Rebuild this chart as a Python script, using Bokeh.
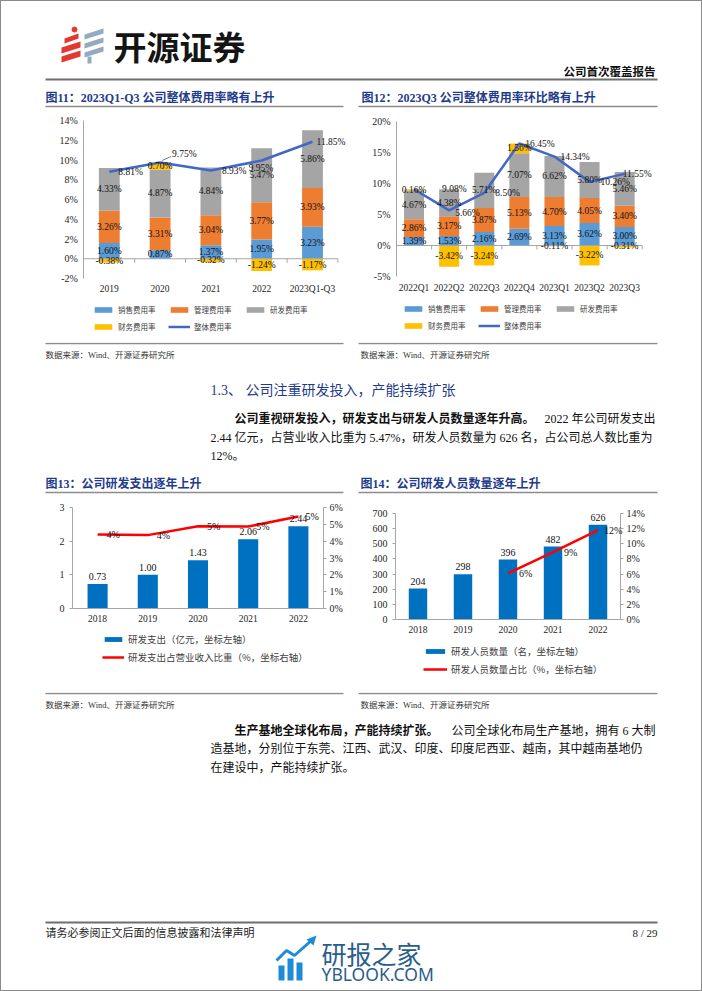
from bokeh.plotting import figure
from bokeh.layouts import column, row
from bokeh.models import (Range1d, LinearAxis, Legend, LegendItem,
                          LabelSet, ColumnDataSource, Label, FixedTicker,
                          PrintfTickFormatter, CustomJSTickFormatter)
from bokeh.core.properties import value
from bokeh.embed import file_html
from bokeh.resources import INLINE

# ---------------- data ----------------
years11 = ["2019", "2020", "2021", "2022", "2023Q1-Q3"]
sales11 = [1.60, 0.87, 1.37, 1.95, 3.23]
admin11 = [3.26, 3.31, 3.04, 3.77, 3.93]
rd11 = [4.33, 4.87, 4.84, 5.47, 5.86]
fin11 = [-0.38, 0.70, -0.32, -1.24, -1.17]
total11 = [8.81, 9.75, 8.93, 9.95, 11.85]

quarters12 = ["2022Q1", "2022Q2", "2022Q3", "2022Q4", "2023Q1", "2023Q2", "2023Q3"]
sales12 = [1.39, 1.53, 2.16, 2.69, 3.13, 3.62, 3.00]
admin12 = [2.86, 3.17, 3.87, 5.13, 4.70, 4.05, 3.40]
rd12 = [4.67, 4.38, 5.71, 7.07, 6.62, 5.80, 5.46]
fin12 = [0.16, -3.42, -3.24, 1.56, -0.11, -3.22, -0.31]
total12 = [9.08, 5.66, 8.50, 16.45, 14.34, 10.26, 11.55]

years13 = ["2018", "2019", "2020", "2021", "2022"]
rd_spend = [0.73, 1.00, 1.43, 2.06, 2.44]
rd_spend_ratio = [4.40, 4.36, 4.89, 4.87, 5.47]

years14 = ["2018", "2019", "2020", "2021", "2022"]
rd_staff = [204, 298, 396, 482, 626]
rd_staff_ratio = [None, None, 6.1, 8.9, 11.8]

expense_names = ["销售费用率", "管理费用率", "研发费用率", "财务费用率", "整体费用率"]
names13 = ["研发支出（亿元，坐标左轴）", "研发支出占营业收入比重（%，坐标右轴）"]
names14 = ["研发人员数量（名，坐标左轴）", "研发人员数量占比（%，坐标右轴）"]

# ---------------- style ----------------
SERIF = "Liberation Serif"
CJK = "Noto Sans CJK SC"
MIX = "'Liberation Serif', 'Noto Sans CJK SC'"
EXP_COLORS = ["#5B9BD5", "#ED7D31", "#A5A5A5", "#FFC000", "#4268C6"]
NAVY = "#1F3C8C"
RULE = "#8C8C8C"
AXIS = "#A6A6A6"

# label offsets (screen px) for the line labels; lead = draw a leader line
dx11 = [9, 12, 11, -13, 4]
dy11 = [0, 8, 0, -8, 0]
lead11 = [False, True, False, False, False]
dx12 = [28, 6, 11, 6, 6, 11, -2]
dy12 = [0, -3, 0, 0, 0, 0, 0]
lead12 = [False] * 7
dx13 = [9, 9, 9, 8, 7]
dx14 = [11, 11, 11, 11, 6]


def style_axis(ax, size="10px", line=AXIS, tick_out=0, standoff=6, font=SERIF):
    ax.axis_line_color = line
    ax.major_tick_line_color = line if tick_out else None
    ax.major_tick_out = tick_out
    ax.major_tick_in = 0
    ax.minor_tick_line_color = None
    ax.minor_tick_out = 0
    ax.minor_tick_in = 0
    ax.major_label_text_font = font
    ax.major_label_text_font_size = size
    ax.major_label_text_color = "#262626"
    ax.major_label_standoff = int(standoff)


def span_range(lo, hi, px_lo, px_hi, total_px):
    """Data range for the full canvas, so that [lo, hi] falls on pixels [px_lo, px_hi]."""
    k = (px_hi - px_lo) / (hi - lo)
    return lo - px_lo / k, lo + (total_px - px_lo) / k


def chart_canvas(W, H, n, box, yr):
    left, right, top, bottom = box
    xs0, xs1 = span_range(0, n, left, right, W)
    ys0, ys1 = span_range(yr[0], yr[1], H - bottom, H - top, H)
    p = figure(width=W, height=H, x_range=Range1d(xs0, xs1), y_range=Range1d(ys0, ys1),
               output_backend="svg", toolbar_location=None, min_border=0,
               x_axis_location=None, y_axis_location=None, outline_line_color=None,
               border_fill_color=None, background_fill_color=None)
    p.grid.visible = False
    return p


def cat_axis(p, cats, y_at, standoff, line):
    n = len(cats)
    xa = LinearAxis(fixed_location=y_at, bounds=(0, n),
                    ticker=FixedTicker(ticks=[i + 0.5 for i in range(n)]),
                    formatter=CustomJSTickFormatter(args=dict(names=cats),
                                                    code="return names[Math.round(tick - 0.5)]"))
    style_axis(xa, size="9.5px", line=line, standoff=standoff)
    p.add_layout(xa, "below")


def expense_chart(cats, sales, admin, rd, fin, total, yr, ystep, box, bar_w,
                  x_standoff, leg_xy, dx, dy, lead):
    H, W = 234, 351
    y0, y1 = yr
    n = len(cats)
    p = chart_canvas(W, H, n, box, yr)
    px_x = (box[1] - box[0]) / n
    px_y = (box[3] - box[2]) / (y1 - y0)
    xs = [i + 0.5 for i in range(n)]
    a_top = [s + a for s, a in zip(sales, admin)]
    r_top = [t + r for t, r in zip(a_top, rd)]
    f_bot = [t if f > 0 else 0 for t, f in zip(r_top, fin)]
    f_top = [t + f if f > 0 else f for t, f in zip(r_top, fin)]
    zero = [0] * n
    stacks = [(zero, sales), (sales, a_top), (a_top, r_top), (f_bot, f_top)]
    rends = []
    lx, ly, lt = [], [], []
    for (b, t), vals, c in zip(stacks, [sales, admin, rd, fin], EXP_COLORS):
        r = p.vbar(x=xs, bottom=b, top=t, width=bar_w, fill_color=c, line_color=None)
        rends.append(r)
        lx += xs
        ly += [(u + v) / 2 for u, v in zip(b, t)]
        lt += [f"{v:.2f}%" for v in vals]
    tick = 4 / px_y
    p.segment(x0=[0], y0=[0], x1=[n], y1=[0], line_color=AXIS, line_width=1)
    bx = list(range(1, n + 1))
    p.segment(x0=bx, y0=[0] * n, x1=bx, y1=[-tick] * n, line_color=AXIS, line_width=1)
    ln = p.line(x=xs, y=total, line_color=EXP_COLORS[4], line_width=2.5)
    rends.append(ln)
    # leader lines for displaced labels
    lead_pts = [(x, v, d, e) for x, v, d, e, L in zip(xs, total, dx, dy, lead) if L]
    if lead_pts:
        p.segment(x0=[x + 2 / px_x for x, _, _, _ in lead_pts],
                  y0=[v + 2 / px_y for _, v, _, _ in lead_pts],
                  x1=[x + (d - 1) / px_x for x, _, d, _ in lead_pts],
                  y1=[v + (e - 2) / px_y for _, v, _, e in lead_pts],
                  line_color="#595959", line_width=0.8)
    p.add_layout(LabelSet(source=ColumnDataSource(dict(x=lx, y=ly, t=lt)), x="x", y="y", text="t",
                          text_align="center", text_baseline="middle", text_font=value(SERIF),
                          text_font_size="9.5px", text_color="#111111"))
    p.add_layout(LabelSet(source=ColumnDataSource(dict(x=xs, y=total, t=[f"{v:.2f}%" for v in total],
                                                       dx=dx, dy=dy)),
                          x="x", y="y", text="t", x_offset="dx", y_offset="dy",
                          text_align="left", text_baseline="middle", text_font=value(SERIF),
                          text_font_size="9.5px", text_color="#111111"))
    ya = LinearAxis(fixed_location=0, bounds=(y0, y1),
                    ticker=FixedTicker(ticks=list(range(y0, y1 + 1, ystep))),
                    formatter=PrintfTickFormatter(format="%d%%"))
    style_axis(ya, size="10px", standoff=6)
    p.add_layout(ya, "left")
    cat_axis(p, cats, y0, x_standoff, None)
    items = [LegendItem(label=nm, renderers=[r]) for nm, r in zip(expense_names, rends)]
    leg = Legend(items=items, location=leg_xy, orientation="horizontal", ncols=3,
                 glyph_width=22, glyph_height=7, label_height=9, label_width=44,
                 label_standoff=4, spacing=6, padding=0, margin=0,
                 border_line_color=None, background_fill_alpha=0,
                 label_text_font=CJK, label_text_font_size="7.5px",
                 label_text_color="#404040", label_text_baseline="middle")
    p.add_layout(leg)
    return p


def bar_line_chart(cats, bars, bar_lbls, ratio, yl, ylstep, yrr, yrstep, box, bar_w,
                   x_standoff, leg_xy, names, glyph_w, dx):
    H, W = 197, 351
    n = len(cats)
    p = chart_canvas(W, H, n, box, yl)
    r0, r1 = span_range(yrr[0], yrr[1], H - box[3], H - box[2], H)
    p.extra_y_ranges = {"r": Range1d(r0, r1)}
    xs = [i + 0.5 for i in range(n)]
    rb = p.vbar(x=xs, top=bars, width=bar_w, fill_color="#0070C0", line_color=None)
    pts = [(x, v, d) for x, v, d in zip(xs, ratio, dx) if v is not None]
    lx = [x for x, _, _ in pts]
    lv = [v for _, v, _ in pts]
    ldx = [d for _, _, d in pts]
    rl = p.line(x=lx, y=lv, y_range_name="r", line_color="#FF0000", line_width=2.5)
    p.add_layout(LabelSet(source=ColumnDataSource(dict(x=xs, y=bars, t=bar_lbls)),
                          x="x", y="y", text="t", text_align="center", text_baseline="bottom",
                          y_offset=4, text_font=value(SERIF), text_font_size="10px",
                          text_color="#111111"))
    p.add_layout(LabelSet(source=ColumnDataSource(dict(x=lx, y=lv, dx=ldx,
                                                       t=[f"{round(v)}%" for v in lv])),
                          x="x", y="y", text="t", y_range_name="r", x_offset="dx",
                          text_align="left", text_baseline="middle", text_font=value(SERIF),
                          text_font_size="10px", text_color="#111111"))
    ya = LinearAxis(fixed_location=0, bounds=yl,
                    ticker=FixedTicker(ticks=list(range(yl[0], yl[1] + 1, ylstep))))
    style_axis(ya, size="10px", tick_out=3, standoff=5)
    p.add_layout(ya, "left")
    ra = LinearAxis(y_range_name="r", fixed_location=n, bounds=yrr,
                    ticker=FixedTicker(ticks=list(range(yrr[0], yrr[1] + 1, yrstep))),
                    formatter=PrintfTickFormatter(format="%d%%"))
    style_axis(ra, size="10px", tick_out=3, standoff=3)
    p.add_layout(ra, "right")
    cat_axis(p, cats, yl[0], x_standoff, AXIS)
    leg = Legend(items=[LegendItem(label=names[0], renderers=[rb]),
                        LegendItem(label=names[1], renderers=[rl])],
                 location=leg_xy, orientation="vertical",
                 glyph_width=glyph_w, glyph_height=6, label_height=10,
                 label_standoff=4, spacing=4, padding=0, margin=0,
                 border_line_color=None, background_fill_alpha=0,
                 label_text_font=CJK, label_text_font_size="9.5px",
                 label_text_color="#404040", label_text_baseline="middle")
    p.add_layout(leg)
    return p


def page_fig(h):
    p = figure(width=702, height=h, x_range=Range1d(0, 702), y_range=Range1d(h, 0),
               output_backend="svg", toolbar_location=None, min_border=0,
               x_axis_location=None, y_axis_location=None, outline_line_color=None,
               border_fill_color=None, background_fill_color=None)
    p.grid.visible = False
    return p


def txt(p, x, y, s, size, font=MIX, color="#111111", bold=False, align="left"):
    p.add_layout(Label(x=x, y=y, text=s, text_font=font, text_font_size=f"{size}px",
                       text_font_style="bold" if bold else "normal", text_color=color,
                       text_align=align, text_baseline="middle"))


def rules(p, segs, color=RULE, width=1.5):
    p.segment(x0=[s[0] for s in segs], y0=[s[2] for s in segs], x1=[s[1] for s in segs],
              y1=[s[2] for s in segs], line_color=color, line_width=width)


# ---------------- header ----------------
header = page_fig(108)
header.patches([[64, 78, 78, 64], [61, 80, 80, 61], [61, 80, 80, 61]],
               [[38, 33, 38, 43], [47, 41, 47, 53], [56, 50, 56, 62]],
               fill_color="#E2382E", line_color=None)
header.scatter([74], [29], size=5, color="#E2382E")
header.patches([[84, 103, 103, 84], [84, 103, 103, 84], [84, 103, 103, 84], [87, 91, 91, 87]],
               [[34, 28, 33, 39], [43, 37, 42, 48], [52, 46, 51, 57], [56, 56, 63, 63]],
               fill_color="#93AABF", line_color=None)
txt(header, 113, 45, "开源证券", 33, font=CJK, bold=True, color="#141414")
txt(header, 655, 70, "公司首次覆盖报告", 11.5, font=CJK, bold=True, align="right")
rules(header, [(45, 657, 79)], color="#6E6E6E", width=2)
txt(header, 45, 97, "图11：2023Q1-Q3 公司整体费用率略有上升", 12, color=NAVY, bold=True)
txt(header, 361, 97, "图12：2023Q3 公司整体费用率环比略有上升", 12, color=NAVY, bold=True)
rules(header, [(45, 343, 106), (358, 657, 106)])

# ---------------- charts row 1 ----------------
c11 = expense_chart(years11, sales11, admin11, rd11, fin11, total11, (-2, 14), 2,
                    (83.4, 337.4, 12, 170), 0.41, 5, (92, 10.5), dx11, dy11, lead11)
c12 = expense_chart(quarters12, sales12, admin12, rd12, fin12, total12, (-5, 20), 5,
                    (45, 290.7, 13, 168), 0.57, 6, (51, 11.5), dx12, dy12, lead12)

# ---------------- middle text ----------------
mid = page_fig(153)
rules(mid, [(45, 343, 1), (358, 657, 1)])
txt(mid, 45, 12, "数据来源：Wind、开源证券研究所", 8.5, color="#333333")
txt(mid, 360, 12, "数据来源：Wind、开源证券研究所", 8.5, color="#333333")
txt(mid, 210, 48, "1.3、 公司注重研发投入，产能持续扩张", 14, color=NAVY)
txt(mid, 234, 76, "公司重视研发投入，研发支出与研发人员数量逐年升高。", 12, bold=True)
txt(mid, 655, 76, "2022 年公司研发支出", 12, align="right")
txt(mid, 210, 95, "2.44 亿元，占营业收入比重为 5.47%，研发人员数量为 626 名，占公司总人数比重为", 12)
txt(mid, 210, 113, "12%。", 12)
txt(mid, 45, 141, "图13：公司研发支出逐年上升", 12, color=NAVY, bold=True)
txt(mid, 360, 141, "图14：公司研发人员数量逐年上升", 12, color=NAVY, bold=True)
rules(mid, [(45, 343, 150), (358, 657, 150)])

# ---------------- charts row 2 ----------------
c13 = bar_line_chart(years13, rd_spend, [f"{v:.2f}" for v in rd_spend], rd_spend_ratio,
                     (0, 3), 1, (0, 6), 1, (72, 323, 12, 113), 0.4, 6, (102, 28.5),
                     names13, 22, dx13)
c14 = bar_line_chart(years14, rd_staff, [str(v) for v in rd_staff], rd_staff_ratio,
                     (0, 700), 100, (0, 14), 2, (44, 269, 18, 124), 0.41, 6, (72, 16.5),
                     names14, 24, dx14)

# ---------------- lower text + footer ----------------
lower = page_fig(299)
rules(lower, [(45, 343, 1), (358, 657, 1)])
txt(lower, 45, 12, "数据来源：Wind、开源证券研究所", 8.5, color="#333333")
txt(lower, 360, 12, "数据来源：Wind、开源证券研究所", 8.5, color="#333333")
txt(lower, 234, 38, "生产基地全球化布局，产能持续扩张。", 12, bold=True)
txt(lower, 655, 38, "公司全球化布局生产基地，拥有 6 大制", 12, align="right")
txt(lower, 210, 56.5, "造基地，分别位于东莞、江西、武汉、印度、印度尼西亚、越南，其中越南基地仍", 12)
txt(lower, 210, 75, "在建设中，产能持续扩张。", 12)
rules(lower, [(45, 657, 230)], color="#6E6E6E", width=2)
txt(lower, 45, 240.5, "请务必参阅正文后面的信息披露和法律声明", 11, color="#222222")
txt(lower, 657, 240.5, "8 / 29", 11, font=SERIF, align="right", color="#222222")
# watermark
lower.quad(left=[278, 287, 296], right=[284, 293, 302], top=[273, 266, 270], bottom=[288, 288, 288],
           fill_color="#1E8AD8", line_color=None)
lower.line(x=[276, 286, 294, 312], y=[268, 258, 263, 247], line_color="#1E8AD8", line_width=3)
lower.patches([[306, 316, 313]], [[247, 243, 253]], fill_color="#1E8AD8", line_color=None)
txt(lower, 321, 260.5, "研报之家", 25, font=CJK, color="#2B5D8C")
txt(lower, 321, 281.5, "YBLOOK.COM", 17.5, font="Noto Sans", color="#2B5D8C")

page = column(header, row(c11, c12), mid, row(c13, c14), lower,
              styles={"background-color": "white", "box-shadow": "inset 0 0 0 1px #8a8a8a"})

open("out.html", "w").write(file_html(page, INLINE))
